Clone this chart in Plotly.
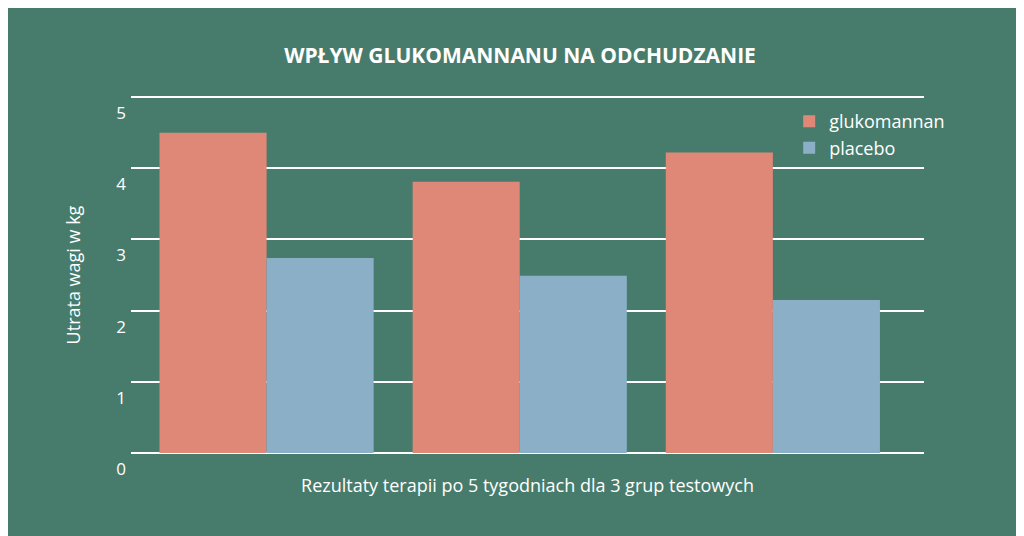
import plotly.graph_objects as go

groups = ["Grupa 1", "Grupa 2", "Grupa 3"]
gluko = [4.5, 3.81, 4.22]
placebo = [2.74, 2.49, 2.15]
yticks = [0, 1, 2, 3, 4, 5]

fig = go.Figure()
fig.add_bar(x=[0, 1, 2], y=gluko, name="glukomannan", marker_color="#e08878", marker_line_width=0)
fig.add_bar(x=[0, 1, 2], y=placebo, name="placebo", marker_color="#8aafc6", marker_line_width=0)
fig.update_layout(
    width=1024, height=536, barmode="group", bargap=0.154, bargroupgap=0,
    paper_bgcolor="#477c6c", plot_bgcolor="#477c6c",
    font=dict(family="Open Sans", color="white", size=17),
    margin=dict(l=123, r=108, t=88, b=90),
    title=dict(text="<b>WPŁYW GLUKOMANNANU NA ODCHUDZANIE</b>", x=0.5, xanchor="center", y=0.912, yanchor="middle", font=dict(size=21)),
    legend=dict(x=0.83, y=0.98, xanchor="left", yanchor="top", bgcolor="rgba(0,0,0,0)", font=dict(size=18), itemsizing="constant"),
    xaxis=dict(range=[-0.5356, 2.597], showticklabels=False, showgrid=False, zeroline=False,
               title=dict(text="Rezultaty terapii po 5 tygodniach dla 3 grup testowych", standoff=25, font=dict(size=18))),
    yaxis=dict(range=[-0.015, 5.015], tickvals=yticks, showgrid=True, gridcolor="white", gridwidth=2, zeroline=False,
               ticklabelshift=16, ticklabelstandoff=4,
               title=dict(text="Utrata wagi w kg", standoff=30, font=dict(size=18))),
)
fig.write_html("out.html")
